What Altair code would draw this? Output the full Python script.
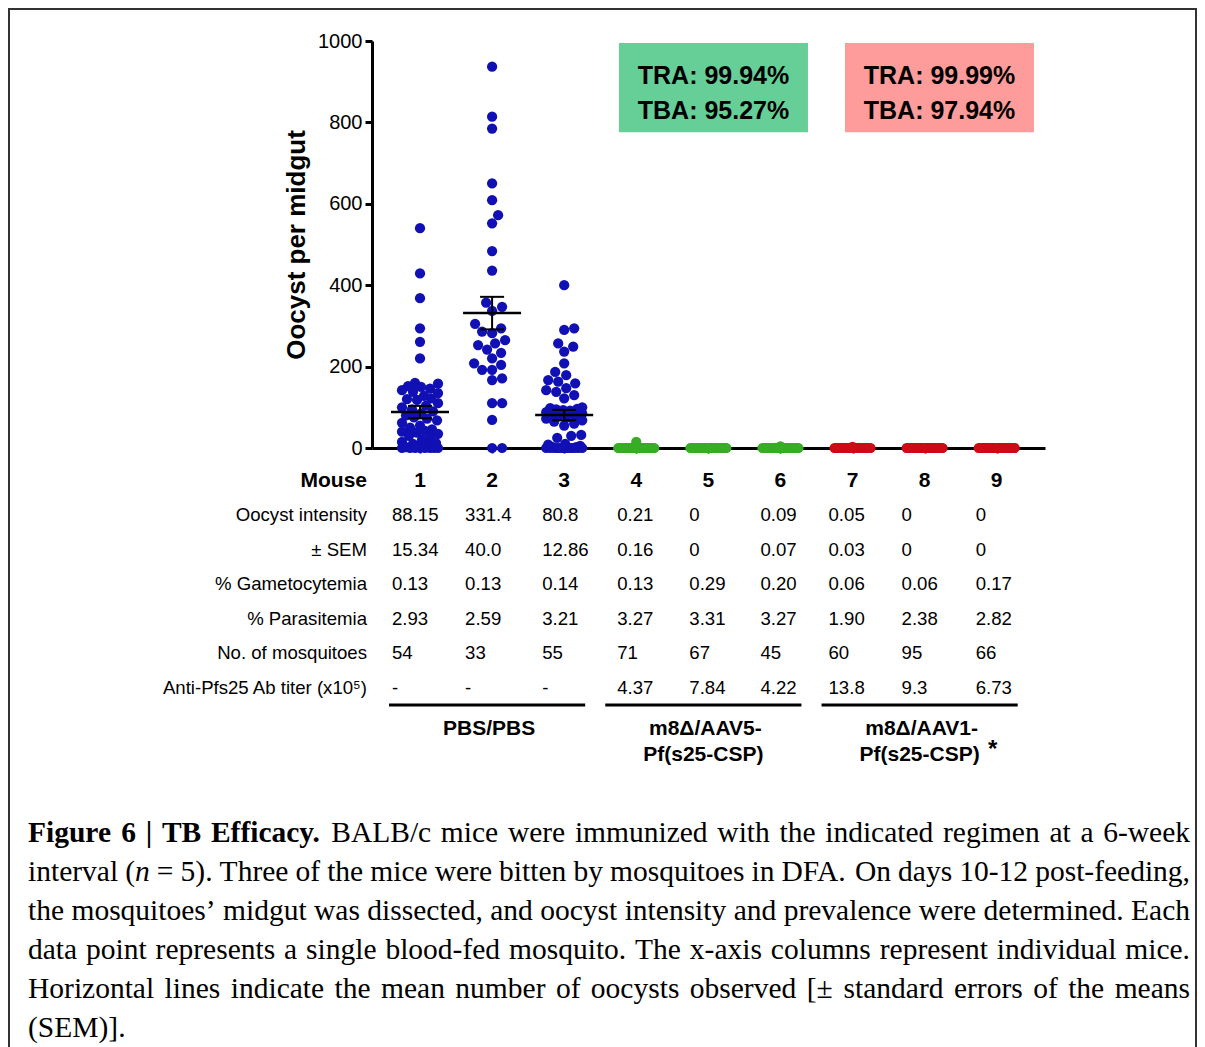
import altair as alt
import numpy as np
import pandas as pd

# ---------------- data ----------------
mouse_ids = [1, 2, 3, 4, 5, 6, 7, 8, 9]
mouse_group = ["PBS/PBS", "PBS/PBS", "PBS/PBS", "AAV5", "AAV5", "AAV5", "AAV1", "AAV1", "AAV1"]
group_names = ["PBS/PBS", "AAV5", "AAV1"]
group_colors = ["#1010b4", "#36ad24", "#cc0b16"]

oocysts_m1 = [540, 429, 368, 294, 261, 220,
              160, 158, 152, 150, 146, 142, 138, 135, 128, 122, 120, 118, 110, 104, 100,
              95, 90, 85, 80, 75, 72, 68, 62, 55, 50, 46, 42, 40, 38, 35, 30, 25, 20, 15, 12,
              10, 8, 5, 3, 2, 0, 0, 0, 0, 0, 0, 0, 0]
oocysts_m2 = [937, 814, 785, 650, 609, 572, 552, 484, 436, 357, 347, 337, 305, 294, 286, 282,
              265, 257, 253, 242, 234, 220, 208, 204, 192, 192, 171, 167, 110, 110, 69, 0, 0]
oocysts_m3 = [400, 294, 290, 257, 249, 237, 208, 187, 179, 167, 163, 159, 147, 142, 138, 130, 122,
              100, 98, 96, 95, 93, 92, 88, 85, 82, 80, 78, 75, 72, 68, 65, 60, 55, 32, 30, 25,
              10, 8, 5, 3, 2, 0, 0, 0, 0, 0, 0, 0, 0, 0, 0, 0, 0, 0]
oocysts_m4 = [15] + [0] * 70
oocysts_m5 = [0] * 67
oocysts_m6 = [4] + [0] * 44
oocysts_m7 = [3] + [0] * 59
oocysts_m8 = [0] * 95
oocysts_m9 = [0] * 66
all_oocysts = [oocysts_m1, oocysts_m2, oocysts_m3, oocysts_m4, oocysts_m5,
               oocysts_m6, oocysts_m7, oocysts_m8, oocysts_m9]

row_names = ["Mouse", "Oocyst intensity", "± SEM", "% Gametocytemia", "% Parasitemia",
             "No. of mosquitoes", "Anti-Pfs25 Ab titer (x10⁵)"]
intensity_txt = ["88.15", "331.4", "80.8", "0.21", "0", "0.09", "0.05", "0", "0"]
sem_txt = ["15.34", "40.0", "12.86", "0.16", "0", "0.07", "0.03", "0", "0"]
gameto_txt = ["0.13", "0.13", "0.14", "0.13", "0.29", "0.20", "0.06", "0.06", "0.17"]
parasit_txt = ["2.93", "2.59", "3.21", "3.27", "3.31", "3.27", "1.90", "2.38", "2.82"]
mosq_txt = ["54", "33", "55", "71", "67", "45", "60", "95", "66"]
titer_txt = ["-", "-", "-", "4.37", "7.84", "4.22", "13.8", "9.3", "6.73"]

group_line1 = ["PBS/PBS", "m8Δ/AAV5-", "m8Δ/AAV1-"]
group_line2 = ["", "Pf(s25-CSP)", "Pf(s25-CSP)"]
group_first = [1, 4, 7]
group_last = [3, 6, 9]

tra_txt = ["TRA: 99.94%", "TRA: 99.99%"]
tba_txt = ["TBA: 95.27%", "TBA: 97.94%"]
box_colors = ["#66cf98", "#fd9c9a"]

caption_bold = "Figure 6 | TB Efficacy."
caption_lines = [
    "BALB/c mice were immunized with the indicated regimen at a 6-week",
    "interval (*n* = 5). Three of the mice were bitten by mosquitoes in DFA. On days 10-12 post-feeding,",
    "the mosquitoes’ midgut was dissected, and oocyst intensity and prevalence were determined. Each",
    "data point represents a single blood-fed mosquito. The x-axis columns represent individual mice.",
    "Horizontal lines indicate the mean number of oocysts observed [± standard errors of the means",
    "(SEM)].",
]

# ---------------- layout ----------------
W, H = 673, 407
X_DOMAIN = [0.334, 9.67]
PXM = W / (X_DOMAIN[1] - X_DOMAIN[0])   # pixels per mouse unit
PXY = H / 1000.0                        # pixels per oocyst
PLOT_L, PLOT_T = 372, 41                # absolute page position of plot origin

xscale = alt.Scale(domain=X_DOMAIN, nice=False, zero=False)
yscale = alt.Scale(domain=[0, 1000], nice=False, zero=True)


def swarm(values, d=10.0, half=18):
    order = sorted(range(len(values)), key=lambda i: values[i])
    cands = [0.0]
    for k in range(1, half + 1):
        cands += [float(k), float(-k)]
    px, py = [], []
    offs = [0.0] * len(values)
    for i in order:
        yv = values[i] * PXY
        ax, ay = np.array(px), np.array(py)
        chosen = None
        for c in cands:
            if len(ax) == 0 or np.min((ax - c) ** 2 + (ay - yv) ** 2) >= d * d:
                chosen = c
                break
        if chosen is None:
            best, bestd = 0.0, -1.0
            for c in cands:
                md = np.min((ax - c) ** 2 + (ay - yv) ** 2)
                if md > bestd + 1e-9:
                    best, bestd = c, md
            chosen = best
        px.append(chosen)
        py.append(yv)
        offs[i] = chosen
    return offs


recs = []
for m, g, vals in zip(mouse_ids, mouse_group, all_oocysts):
    offs = swarm(vals)
    for v, o in zip(vals, offs):
        recs.append({"mouse": m, "group": g, "oocysts": v, "xpos": m + o / PXM})
points_df = pd.DataFrame(recs)

stat_df = pd.DataFrame({
    "mouse": mouse_ids[:3],
    "mean": [float(v) for v in intensity_txt[:3]],
    "sem": [float(v) for v in sem_txt[:3]],
})
stat_df["lo"] = stat_df["mean"] - stat_df["sem"]
stat_df["hi"] = stat_df["mean"] + stat_df["sem"]

xaxis = alt.Axis(values=mouse_ids, labels=False, title="", grid=False,
                 domainColor="black", domainWidth=3, tickColor="black",
                 tickWidth=2, tickSize=5)
yaxis = alt.Axis(values=[0, 200, 400, 600, 800, 1000], format="d", title="Oocyst per midgut",
                 titleFontSize=26, titleFontWeight="bold", titlePadding=8,
                 titleColor="black", labelFontSize=20, labelPadding=3,
                 labelColor="black", labelFlush=False, tickSize=7, tickWidth=3,
                 tickColor="black", domainColor="black", domainWidth=3, grid=False)

points = alt.Chart(points_df).mark_circle(size=105, opacity=1).encode(
    x=alt.X("xpos:Q", scale=xscale, axis=xaxis),
    y=alt.Y("oocysts:Q", scale=yscale, axis=yaxis),
    color=alt.Color("group:N", scale=alt.Scale(domain=group_names, range=group_colors),
                    legend=None),
)


def nx(f="mouse"):
    return alt.X(f + ":Q", scale=xscale)


def ny(f):
    return alt.Y(f + ":Q", scale=yscale)


mean_line = alt.Chart(stat_df).mark_rule(color="black", strokeWidth=2.5,
                                         xOffset=-29, x2Offset=29).encode(
    x=nx(), x2="mouse:Q", y=ny("mean"))
sem_v = alt.Chart(stat_df).mark_rule(color="black", strokeWidth=2).encode(
    x=nx(), y=ny("lo"), y2="hi:Q")
cap_hi = alt.Chart(stat_df).mark_rule(color="black", strokeWidth=2,
                                      xOffset=-12, x2Offset=12).encode(
    x=nx(), x2="mouse:Q", y=ny("hi"))
cap_lo = alt.Chart(stat_df).mark_rule(color="black", strokeWidth=2,
                                      xOffset=-12, x2Offset=12).encode(
    x=nx(), x2="mouse:Q", y=ny("lo"))

# efficacy boxes (positioned in data units)
box_layers = []
box_x1 = [3.76, 6.895]
box_x2 = [6.382, 9.517]
box_cx = [5.071, 8.206]
for i in range(2):
    bdf = pd.DataFrame({"x1": [box_x1[i]], "x2": [box_x2[i]], "y1": [776], "y2": [995]})
    box_layers.append(alt.Chart(bdf).mark_rect(color=box_colors[i]).encode(
        x=nx("x1"), x2="x2:Q", y=ny("y1"), y2="y2:Q"))
btxt_df = pd.DataFrame({
    "x": [box_cx[0], box_cx[0], box_cx[1], box_cx[1]],
    "y": [914, 829, 914, 829],
    "t": [tra_txt[0], tba_txt[0], tra_txt[1], tba_txt[1]],
})
box_text = alt.Chart(btxt_df).mark_text(fontSize=25, fontWeight="bold", color="black",
                                        align="center", baseline="middle").encode(
    x=nx("x"), y=ny("y"), text="t:N")

# group bars and labels
grp_df = pd.DataFrame({"first": group_first, "last": group_last,
                       "mid": [(a + b) / 2 for a, b in zip(group_first, group_last)],
                       "l1": group_line1, "l2": group_line2})
grp_bar = alt.Chart(grp_df).mark_rule(color="black", strokeWidth=3,
                                      xOffset=-31, x2Offset=21).encode(
    x=nx("first"), x2="last:Q", y=alt.value(705 - PLOT_T))
grp_l1 = alt.Chart(grp_df).mark_text(fontSize=21, fontWeight="bold", color="black",
                                     align="center", baseline="middle", dx=-3).encode(
    x=nx("mid"), y=alt.value(729 - PLOT_T), text="l1:N")
grp_l2 = alt.Chart(grp_df).mark_text(fontSize=21, fontWeight="bold", color="black",
                                     align="center", baseline="middle", dx=-5).encode(
    x=nx("mid"), y=alt.value(755 - PLOT_T), text="l2:N")
ast_df = pd.DataFrame({"m": [group_last[2]], "t": ["*"]})
asterisk = alt.Chart(ast_df).mark_text(fontSize=24, fontWeight="bold", color="black",
                                       align="center", baseline="middle", dx=-4).encode(
    x=nx("m"), y=alt.value(750 - PLOT_T), text="t:N")

# ---------------- caption (justified with Times metrics) ----------------
CAP_FS = 29.5
CAP_LEFT, CAP_RIGHT = 28, 1190
CAP_BASE = [842, 881, 920, 959, 998, 1037]
TW = {" ": 250, "(": 333, ")": 333, "[": 333, "]": 333, ".": 250, ",": 250, "-": 333,
      "/": 278, "=": 564, "±": 564, "’": 333, "|": 200}
for ch in "0123456789":
    TW[ch] = 500
TW.update(dict(zip("ABCDEFGHIJKLMNOPQRSTUVWXYZ",
                   [722, 667, 667, 722, 611, 556, 722, 722, 333, 389, 722, 611, 889,
                    722, 722, 556, 722, 667, 556, 611, 722, 722, 944, 722, 722, 611])))
TW.update(dict(zip("abcdefghijklmnopqrstuvwxyz",
                   [444, 500, 444, 500, 444, 333, 500, 500, 278, 278, 500, 278, 778,
                    500, 500, 500, 500, 333, 389, 278, 500, 500, 722, 500, 500, 444])))
TWB = {"F": 611, "i": 278, "g": 500, "u": 556, "r": 444, "e": 444, "6": 500, "|": 220,
       "T": 667, "B": 667, "E": 667, "f": 333, "c": 444, "a": 500, "y": 500, ".": 250}


def seg_w(text, kind):
    table = TWB if kind == "bold" else TW
    return sum(table.get(c, 500) for c in text) / 1000.0 * CAP_FS


def parse_word(word, default_kind):
    parts = word.split("*")
    segs = []
    for k, p in enumerate(parts):
        if p:
            segs.append((p, "italic" if k % 2 == 1 else default_kind))
    return segs


cap_recs = []
for li, line in enumerate(caption_lines):
    words = []
    if li == 0:
        words += [parse_word(w, "bold") for w in caption_bold.split(" ")]
    words += [parse_word(w, "normal") for w in line.split(" ")]
    widths = [sum(seg_w(t, k) for t, k in wd) for wd in words]
    justify = li < len(caption_lines) - 1
    if justify and len(words) > 1:
        gap = (CAP_RIGHT - CAP_LEFT - sum(widths)) / (len(words) - 1)
    else:
        gap = TW[" "] / 1000.0 * CAP_FS
    xc = CAP_LEFT
    for wd, wdt in zip(words, widths):
        xs = xc
        for t, k in wd:
            cap_recs.append({"px": xs - PLOT_L, "py": CAP_BASE[li] - PLOT_T, "t": t, "kind": k})
            xs += seg_w(t, k)
        xc += wdt + gap
cap_df = pd.DataFrame(cap_recs)

cap_layers = []
for kind, wgt, sty in [("normal", "normal", "normal"), ("bold", "bold", "normal"),
                       ("italic", "normal", "italic")]:
    cap_layers.append(alt.Chart(cap_df).transform_filter(
        alt.datum.kind == kind).mark_text(
        font="Liberation Serif", fontSize=CAP_FS, fontWeight=wgt, fontStyle=sty,
        color="black", align="left", baseline="alphabetic").encode(
        x=alt.X("px:Q", scale=None), y=alt.Y("py:Q", scale=None), text="t:N"))

border = alt.Chart(pd.DataFrame({"t": [""]})).mark_rect(
    filled=False, stroke="#333333", strokeWidth=2).encode(
    x=alt.value(9 - PLOT_L), x2=alt.value(1196 - PLOT_L),
    y=alt.value(9 - PLOT_T), y2=alt.value(1200 - PLOT_T))

main = alt.layer(points, mean_line, sem_v, cap_hi, cap_lo, *box_layers, box_text,
                 grp_bar, grp_l1, grp_l2, asterisk, border)

# ---------------- table ----------------
row_y = alt.Y("row:N", scale=alt.Scale(type="point", domain=row_names,
                                       range=[480.7 - PLOT_T, 687.7 - PLOT_T], padding=0),
              axis=None)
col_dx = [-28, -27, -22, -19, -19, -20, -24, -23, -21]
trecs = []
for rname, vals in zip(row_names[1:], [intensity_txt, sem_txt, gameto_txt, parasit_txt,
                                        mosq_txt, titer_txt]):
    for m, v, dx in zip(mouse_ids, vals, col_dx):
        trecs.append({"row": rname, "xpos": m + dx / PXM, "t": v})
tval_df = pd.DataFrame(trecs)
TFS = 18.6
tvals = alt.Chart(tval_df).mark_text(fontSize=TFS, color="black", align="left",
                                     baseline="middle").encode(
    x=nx("xpos"), y=row_y, text="t:N")
mouse_df = pd.DataFrame({"row": ["Mouse"] * 9, "mouse": mouse_ids,
                         "t": [str(m) for m in mouse_ids]})
mouse_nums = alt.Chart(mouse_df).mark_text(fontSize=21, fontWeight="bold", color="black",
                                           align="center", baseline="middle").encode(
    x=nx("mouse"), y=row_y, text="t:N")
lab_df = pd.DataFrame({"row": row_names[1:], "t": row_names[1:]})
row_labels = alt.Chart(lab_df).mark_text(fontSize=TFS, color="black", align="right",
                                         baseline="middle").encode(
    x=alt.value(-5), y=row_y, text="t:N")
mlab_df = pd.DataFrame({"row": ["Mouse"], "t": ["Mouse"]})
mouse_label = alt.Chart(mlab_df).mark_text(fontSize=21, fontWeight="bold", color="black",
                                           align="right", baseline="middle").encode(
    x=alt.value(-5), y=row_y, text="t:N")

table = alt.layer(tvals, mouse_nums, row_labels, mouse_label)
caption = alt.layer(*cap_layers)

chart = alt.layer(main, table, caption).resolve_scale(y="independent").properties(
    width=W, height=H,
    padding={"left": PLOT_L - 8, "top": PLOT_T - 8, "right": 1197 - PLOT_L - W,
             "bottom": 1047 - PLOT_T - H},
    autosize=alt.AutoSizeParams(type="none"),
    background="white",
).configure(font="Liberation Sans").configure_view(stroke="transparent", strokeWidth=0)

chart.save("out.html", embed_options={"renderer": "svg", "actions": False})
